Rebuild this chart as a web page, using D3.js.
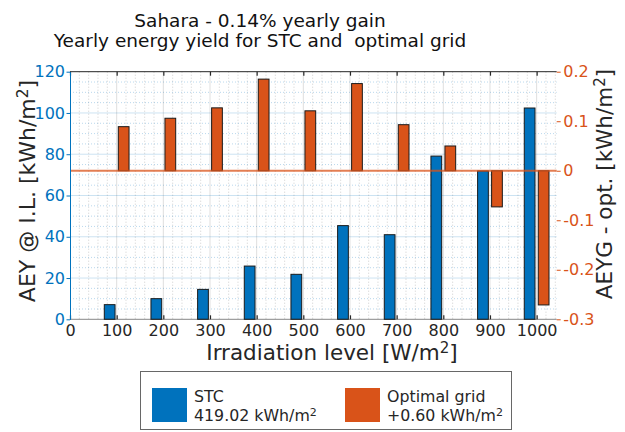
<!DOCTYPE html>
<html>
<head>
<meta charset="utf-8">
<script src="https://cdn.jsdelivr.net/npm/d3@7"></script>
<style>
  html, body { margin: 0; padding: 0; background: #fff; }
  svg { display: block; font-family: "DejaVu Sans", Verdana, sans-serif; }
</style>
</head>
<body>
<svg id="chart" width="625" height="432"></svg>
<script>
// Irradiation levels (W/m²)
const levels = [100, 200, 300, 400, 500, 600, 700, 800, 900, 1000];
// Annual energy yield at each irradiation level for STC (kWh/m²)
const stcYield = [7.1, 10.0, 14.5, 25.8, 21.8, 45.4, 41.0, 79.1, 71.9, 102.4];
// Yield gain of the optimal grid over STC at each level (kWh/m²)
const optGain = [0.089, 0.106, 0.127, 0.185, 0.121, 0.176, 0.093, 0.050, -0.073, -0.271];

const xTicks = [0, 100, 200, 300, 400, 500, 600, 700, 800, 900, 1000];
const leftTicks = [0, 20, 40, 60, 80, 100, 120];
const rightTicks = [-0.3, -0.2, -0.1, 0, 0.1, 0.2];

const titleLines = ["Sahara - 0.14% yearly gain", "Yearly energy yield for STC and\u00a0 optimal grid"];
const legendItems = [
  { name: "STC", sub: "419.02 kWh/m", key: "stc" },
  { name: "Optimal grid", sub: "+0.60 kWh/m", key: "opt" }
];

const BLUE = "#0072BD", ORANGE = "#D95319", INK = "#262626";
const FONT = "'DejaVu Sans', Verdana, sans-serif";

const svg = d3.select("#chart");
const plot = { left: 70, right: 556.7, top: 71.7, bottom: 319.3 };

const x = d3.scaleLinear().domain([0, 1043]).range([plot.left, plot.right]);
const yL = d3.scaleLinear().domain([0, 120]).range([plot.bottom, plot.top]);
const yR = d3.scaleLinear().domain([-0.3, 0.2]).range([plot.bottom, plot.top]);

// grid: minor dotted lines, then major lines
const grid = svg.append("g");
const minorX = d3.range(20, 1043, 20).filter(v => v % 100 !== 0);
const minorY = d3.range(5, 120, 5).filter(v => v % 20 !== 0);
grid.selectAll(".mx").data(minorX).join("line")
  .attr("x1", d => x(d)).attr("x2", d => x(d))
  .attr("y1", plot.top).attr("y2", plot.bottom)
  .attr("stroke", INK).attr("stroke-opacity", 0.28)
  .attr("stroke-dasharray", "1,2").attr("stroke-width", 0.8);
grid.selectAll(".my").data(minorY).join("line")
  .attr("x1", plot.left).attr("x2", plot.right)
  .attr("y1", d => yL(d)).attr("y2", d => yL(d))
  .attr("stroke", BLUE).attr("stroke-opacity", 0.35)
  .attr("stroke-dasharray", "1,2").attr("stroke-width", 0.8);
grid.selectAll(".Mx").data(xTicks.slice(1)).join("line")
  .attr("x1", d => x(d)).attr("x2", d => x(d))
  .attr("y1", plot.top).attr("y2", plot.bottom)
  .attr("stroke", INK).attr("stroke-opacity", 0.15);
grid.selectAll(".My").data(leftTicks.slice(1, -1)).join("line")
  .attr("x1", plot.left).attr("x2", plot.right)
  .attr("y1", d => yL(d)).attr("y2", d => yL(d))
  .attr("stroke", BLUE).attr("stroke-opacity", 0.2);

// bars
const barW = 23, off = 15;
svg.append("g").selectAll("rect").data(levels).join("rect")
  .attr("x", d => x(d - off - barW / 2))
  .attr("width", x(barW) - x(0))
  .attr("y", (d, i) => yL(stcYield[i]))
  .attr("height", (d, i) => yL(0) - yL(stcYield[i]))
  .attr("fill", BLUE).attr("stroke", "#1a1a1a").attr("stroke-width", 1);

svg.append("g").selectAll("rect").data(levels).join("rect")
  .attr("x", d => x(d + off - barW / 2))
  .attr("width", x(barW) - x(0))
  .attr("y", (d, i) => yR(Math.max(0, optGain[i])))
  .attr("height", (d, i) => Math.abs(yR(optGain[i]) - yR(0)))
  .attr("fill", ORANGE).attr("stroke", "#1a1a1a").attr("stroke-width", 1);

// right-axis baseline
svg.append("line")
  .attr("x1", plot.left).attr("x2", plot.right)
  .attr("y1", yR(0)).attr("y2", yR(0))
  .attr("stroke", ORANGE).attr("stroke-opacity", 0.75).attr("stroke-width", 2);

// box edges
svg.append("line").attr("x1", plot.left).attr("x2", plot.right)
  .attr("y1", plot.top).attr("y2", plot.top).attr("stroke", INK);
svg.append("line").attr("x1", plot.left).attr("x2", plot.right)
  .attr("y1", plot.bottom).attr("y2", plot.bottom).attr("stroke", INK).attr("stroke-opacity", 0.55);

// x axis (bottom labels + inward ticks, top inward ticks)
const xAxis = d3.axisBottom(x).tickValues(xTicks).tickFormat(d3.format("d"))
  .tickSizeInner(-4).tickSizeOuter(0).tickPadding(5);
const gx = svg.append("g").attr("transform", `translate(0,${plot.bottom})`).call(xAxis)
  .attr("font-family", FONT).attr("font-size", 16);
gx.select(".domain").remove();
gx.selectAll("line").attr("stroke", INK).attr("stroke-width", 1.2);
gx.selectAll("text").attr("fill", INK);

const xTop = d3.axisTop(x).tickValues(xTicks).tickSizeInner(-4).tickSizeOuter(0).tickFormat("");
const gxt = svg.append("g").attr("transform", `translate(0,${plot.top})`).call(xTop);
gxt.select(".domain").remove();
gxt.selectAll("line").attr("stroke", INK).attr("stroke-width", 1.2);

// left axis
const gl = svg.append("g").attr("transform", `translate(${plot.left},0)`)
  .call(d3.axisLeft(yL).tickValues(leftTicks).tickSizeInner(3.5).tickSizeOuter(0).tickPadding(1.5))
  .attr("font-family", FONT).attr("font-size", 16);
gl.select(".domain").attr("stroke", BLUE);
gl.selectAll("line").attr("stroke", BLUE);
gl.selectAll("text").attr("fill", BLUE);

// right axis
const gr = svg.append("g").attr("transform", `translate(${plot.right},0)`)
  .call(d3.axisRight(yR).tickValues(rightTicks).tickSizeInner(4).tickSizeOuter(0).tickPadding(2.5)
    .tickFormat(d => d === 0 ? "0" : String(d)))
  .attr("font-family", FONT).attr("font-size", 16);
gr.select(".domain").remove();
gr.selectAll("line").attr("stroke", ORANGE);
gr.selectAll("text").attr("fill", ORANGE);

// titles
svg.append("g").selectAll("text").data(titleLines).join("text")
  .attr("x", 260).attr("y", (d, i) => 27 + i * 20)
  .attr("text-anchor", "middle").attr("font-size", 18.5).attr("fill", "#111")
  .style("white-space", "pre")
  .text(d => d);

// axis labels with superscript units
function unitLabel(sel, main, tail) {
  sel.append("tspan").text(main);
  sel.append("tspan").attr("font-size", "0.7em").attr("dy", "-0.45em").text("2");
  sel.append("tspan").attr("dy", "0.315em").text(tail);
}
const xl = svg.append("text").attr("x", 332).attr("y", 360)
  .attr("text-anchor", "middle").attr("font-size", 21.5).attr("fill", INK);
unitLabel(xl, "Irradiation level [W/m", "]");

const yl = svg.append("text").attr("transform", "translate(35,191) rotate(-90)")
  .attr("text-anchor", "middle").attr("font-size", 22).attr("fill", INK);
unitLabel(yl, "AEY @ I.L. [kWh/m", "]");

const yr = svg.append("text").attr("transform", "translate(612,184) rotate(-90)")
  .attr("text-anchor", "middle").attr("font-size", 21.5).attr("fill", INK);
unitLabel(yr, "AEYG - opt. [kWh/m", "]");

// legend
const lg = svg.append("g");
lg.append("rect").attr("x", 140.5).attr("y", 371.5).attr("width", 371).attr("height", 58)
  .attr("fill", "#fff").attr("stroke", INK).attr("stroke-opacity", 0.7);
const lx = [152, 345];
const items = lg.selectAll("g.item").data(legendItems).join("g")
  .attr("transform", (d, i) => `translate(${lx[i]},0)`);
items.append("rect").attr("x", 0).attr("y", 388).attr("width", 35).attr("height", 34)
  .attr("fill", d => d.key === "stc" ? BLUE : ORANGE);
items.append("text").attr("x", 42).attr("y", 401.5).attr("font-size", 15.8).attr("fill", INK).text(d => d.name);
const sub = items.append("text").attr("x", 42).attr("y", 421).attr("font-size", 15.8).attr("fill", INK);
sub.append("tspan").text(d => d.sub);
sub.append("tspan").attr("font-size", "0.7em").attr("dy", "-0.45em").text("2");
</script>
</body>
</html>
